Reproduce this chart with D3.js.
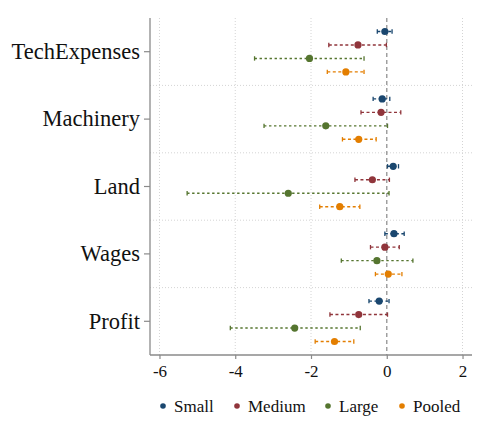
<!DOCTYPE html>
<html>
<head>
<meta charset="utf-8">
<script src="https://cdn.jsdelivr.net/npm/d3@7"></script>
<style>
  body { margin: 0; background: #fff; }
</style>
</head>
<body>
<svg id="chart" width="486" height="428"></svg>
<script>
// coefficient plot, one row per outcome, one marker per sample
var categories = ["TechExpenses", "Machinery", "Land", "Wages", "Profit"];
var series = ["Small", "Medium", "Large", "Pooled"];
var colors = ["#1a476f", "#90353b", "#55752f", "#e37e00"];
var xTicks = [-6, -4, -2, 0, 2];

var smallEst = [-0.05, -0.12, 0.17, 0.19, -0.20];
var smallLo = [-0.25, -0.36, 0.02, -0.05, -0.47];
var smallHi = [0.14, 0.08, 0.31, 0.46, 0.06];

var mediumEst = [-0.76, -0.15, -0.38, -0.05, -0.74];
var mediumLo = [-1.53, -0.68, -0.84, -0.43, -1.50];
var mediumHi = [-0.01, 0.37, 0.07, 0.33, 0.02];

var largeEst = [-2.04, -1.61, -2.60, -0.26, -2.43];
var largeLo = [-3.49, -3.24, -5.27, -1.20, -4.13];
var largeHi = [-0.60, 0.02, 0.06, 0.69, -0.70];

var pooledEst = [-1.08, -0.74, -1.24, 0.04, -1.38];
var pooledLo = [-1.57, -1.17, -1.77, -0.30, -1.89];
var pooledHi = [-0.60, -0.28, -0.71, 0.40, -0.87];

var estimates = [smallEst, mediumEst, largeEst, pooledEst];
var lows = [smallLo, mediumLo, largeLo, pooledLo];
var highs = [smallHi, mediumHi, largeHi, pooledHi];
var dashes = ["3,2.5", "3,2.5", "2.4,2.6", "3,2.5"];

var serifFont = "'Liberation Serif'";
var plotLeft = 150, plotRight = 472, plotTop = 18, plotBottom = 355;

var svg = d3.select("#chart");

var x = d3.scaleLinear().domain([-6.25, 2.25]).range([plotLeft, plotRight]);
var y = d3.scaleBand().domain(categories).range([plotTop, plotBottom]);
var sub = d3.scalePoint().domain(series).range([-20.2, 20.2]);

// grid
var grid = svg.append("g");
grid.selectAll(".vgrid")
    .data(xTicks.filter(d => d !== 0))
    .enter().append("line")
    .attr("x1", d => x(d)).attr("x2", d => x(d))
    .attr("y1", plotTop).attr("y2", plotBottom)
    .attr("stroke", "#d4d4d4").attr("stroke-width", 1)
    .attr("stroke-dasharray", "1,2");
grid.selectAll(".hgrid")
    .data(categories.slice(1))
    .enter().append("line")
    .attr("x1", plotLeft).attr("x2", plotRight)
    .attr("y1", d => y(d)).attr("y2", d => y(d))
    .attr("stroke", "#d4d4d4").attr("stroke-width", 1)
    .attr("stroke-dasharray", "1,2");

// zero reference line
svg.append("line")
    .attr("x1", x(0)).attr("x2", x(0))
    .attr("y1", plotTop).attr("y2", plotBottom)
    .attr("stroke", "#9a9a9a").attr("stroke-width", 1.4)
    .attr("stroke-dasharray", "4,3");

// axes
var xAxis = svg.append("g")
    .attr("transform", "translate(0," + plotBottom + ")")
    .call(d3.axisBottom(x).tickValues(xTicks).tickSize(4).tickPadding(6).tickFormat(d => String(d)));
xAxis.selectAll("text")
    .style("font-family", serifFont).style("font-size", "17px").style("fill", "#111");

var yAxis = svg.append("g")
    .attr("transform", "translate(" + plotLeft + ",0)")
    .call(d3.axisLeft(y).tickSize(6).tickPadding(4));
yAxis.selectAll("text")
    .style("font-family", serifFont).style("font-size", "22.5px").style("fill", "#111");

svg.selectAll(".domain").attr("stroke", "#8a8a8a").attr("stroke-width", 1.3);
svg.selectAll(".tick line").attr("stroke", "#8a8a8a").attr("stroke-width", 1.2);
xAxis.select(".domain").attr("d", "M" + plotLeft + ",0H" + plotRight);
yAxis.select(".domain").attr("d", "M0," + plotTop + "V" + plotBottom);

// estimates with confidence intervals
series.forEach(function(s, k) {
    var rows = categories.map(function(c, i) {
        return { cat: c, est: estimates[k][i], lo: lows[k][i], hi: highs[k][i] };
    });
    var g = svg.append("g").attr("class", "series-" + s);
    var cy = d => y(d.cat) + y.bandwidth() / 2 + sub(s);

    g.selectAll(".ci").data(rows).enter().append("line")
        .attr("x1", d => x(d.lo)).attr("x2", d => x(d.hi))
        .attr("y1", cy).attr("y2", cy)
        .attr("stroke", colors[k]).attr("stroke-width", 1.4)
        .attr("stroke-dasharray", dashes[k]);

    ["lo", "hi"].forEach(function(end) {
        g.selectAll(".cap-" + end).data(rows).enter().append("line")
            .attr("x1", d => x(d[end])).attr("x2", d => x(d[end]))
            .attr("y1", d => cy(d) - 2.2).attr("y2", d => cy(d) + 2.2)
            .attr("stroke", colors[k]).attr("stroke-width", 1.3);
    });

    g.selectAll(".pt").data(rows).enter().append("circle")
        .attr("cx", d => x(d.est)).attr("cy", cy)
        .attr("r", 3.6)
        .attr("fill", colors[k]);
});

// legend
var legendX = [163, 237, 328, 402];
var legend = svg.append("g");
series.forEach(function(s, k) {
    legend.append("circle")
        .attr("cx", legendX[k]).attr("cy", 406).attr("r", 2.8)
        .attr("fill", colors[k]);
    legend.append("text")
        .attr("x", legendX[k] + 11).attr("y", 406)
        .attr("dy", "0.35em")
        .style("font-family", serifFont)
        .style("font-size", "17px")
        .style("fill", "#111")
        .text(s);
});
</script>
</body>
</html>
